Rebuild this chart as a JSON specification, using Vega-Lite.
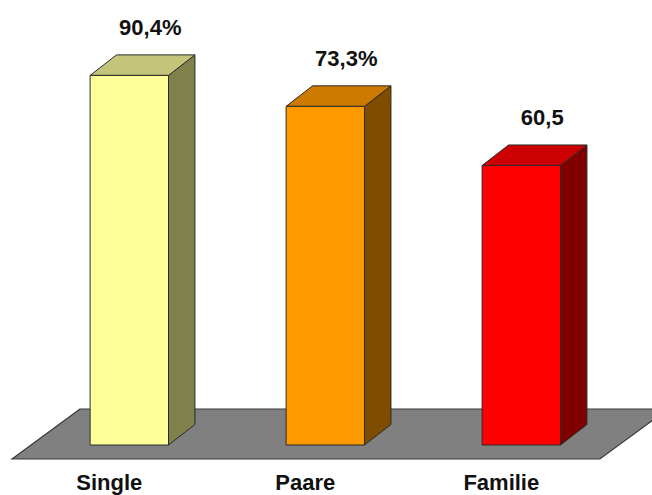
{
  "$schema": "https://vega.github.io/schema/vega-lite/v6.json",
  "width": 652,
  "height": 495,
  "padding": 0,
  "autosize": {"type": "fit", "contains": "padding"},
  "background": "#ffffff",
  "config": {"view": {"stroke": null}},
  "data": {
    "values": [
      {"category": "Single", "value": 80.0, "label": "90,4%"},
      {"category": "Paare", "value": 73.3, "label": "73,3%"},
      {"category": "Familie", "value": 60.5, "label": "60,5"}
    ]
  },
  "transform": [
    {"window": [{"op": "row_number", "as": "n"}]},
    {"calculate": "datum.n - 1", "as": "i"}
  ],
  "resolve": {"scale": {"fill": "independent"}},
  "layer": [
    {
      "transform": [
        {"aggregate": [{"op": "min", "field": "i", "as": "lo"}, {"op": "max", "field": "i", "as": "hi"}]},
        {"calculate": "0", "as": "front"},
        {"calculate": "1", "as": "back"},
        {"fold": ["front", "back"], "as": ["edge", "k"]},
        {"calculate": "-3.03 + datum.k * 10.82", "as": "fy"},
        {"calculate": "datum.lo - 0.598 + datum.k * 0.3465", "as": "fx"},
        {"calculate": "datum.hi + 0.401 + datum.k * 0.347", "as": "fx2"}
      ],
      "mark": {"type": "area", "orient": "horizontal", "fill": "#808080", "stroke": "#3a3a3a", "strokeWidth": 1.2, "clip": true},
      "encoding": {
        "y": {"field": "fy", "type": "quantitative", "axis": null, "scale": {"domain": [-10.82, 96.32], "nice": false, "zero": false}},
        "x": {"field": "fx", "type": "quantitative", "axis": null, "stack": null, "scale": {"domain": [-0.6597, 2.6668], "nice": false, "zero": false}},
        "x2": {"field": "fx2"}
      }
    },
    {
      "transform": [
        {"calculate": "0", "as": "front"},
        {"calculate": "1", "as": "back"},
        {"fold": ["front", "back"], "as": ["edge", "k"]},
        {"calculate": "datum.i + 0.2 + datum.k * 0.135", "as": "sx"},
        {"calculate": "datum.k * 4.44", "as": "sy"},
        {"calculate": "datum.value + datum.k * 4.44", "as": "sy2"}
      ],
      "mark": {"type": "area", "stroke": "#2a2a2a", "strokeWidth": 1},
      "encoding": {
        "x": {"field": "sx", "type": "quantitative", "axis": null, "scale": {"domain": [-0.6597, 2.6668], "nice": false, "zero": false}},
        "y": {"field": "sy", "type": "quantitative", "axis": null, "stack": null, "scale": {"domain": [-10.82, 96.32], "nice": false, "zero": false}},
        "y2": {"field": "sy2"},
        "detail": {"field": "category"},
        "fill": {"field": "category", "type": "nominal", "legend": null, "scale": {"domain": ["Single", "Paare", "Familie"], "range": ["#80804d", "#804d00", "#800000"]}}
      }
    },
    {
      "transform": [
        {"calculate": "0", "as": "front"},
        {"calculate": "1", "as": "back"},
        {"fold": ["front", "back"], "as": ["edge", "k"]},
        {"calculate": "datum.i - 0.2 + datum.k * 0.135", "as": "tx"},
        {"calculate": "datum.i + 0.2 + datum.k * 0.135", "as": "tx2"},
        {"calculate": "datum.value + datum.k * 4.44", "as": "ty"}
      ],
      "mark": {"type": "area", "orient": "horizontal", "stroke": "#2a2a2a", "strokeWidth": 1},
      "encoding": {
        "y": {"field": "ty", "type": "quantitative", "axis": null, "scale": {"domain": [-10.82, 96.32], "nice": false, "zero": false}},
        "x": {"field": "tx", "type": "quantitative", "axis": null, "stack": null, "scale": {"domain": [-0.6597, 2.6668], "nice": false, "zero": false}},
        "x2": {"field": "tx2"},
        "detail": {"field": "category"},
        "fill": {"field": "category", "type": "nominal", "legend": null, "scale": {"domain": ["Single", "Paare", "Familie"], "range": ["#c4c47a", "#cc7a00", "#cc0000"]}}
      }
    },
    {
      "transform": [
        {"calculate": "datum.i - 0.2", "as": "x0"},
        {"calculate": "datum.i + 0.2", "as": "x1"}
      ],
      "mark": {"type": "rect", "stroke": "#2a2a2a", "strokeWidth": 1},
      "encoding": {
        "x": {"field": "x0", "type": "quantitative", "axis": null, "scale": {"domain": [-0.6597, 2.6668], "nice": false, "zero": false}},
        "x2": {"field": "x1"},
        "y": {"field": "value", "type": "quantitative", "axis": null, "scale": {"domain": [-10.82, 96.32], "nice": false, "zero": false}},
        "y2": {"datum": 0},
        "fill": {"field": "category", "type": "nominal", "legend": null, "scale": {"domain": ["Single", "Paare", "Familie"], "range": ["#ffff99", "#ff9900", "#ff0000"]}}
      }
    },
    {
      "transform": [
        {"calculate": "datum.i + 0.107", "as": "lx"},
        {"calculate": "datum.value + 4.44", "as": "ly"}
      ],
      "mark": {"type": "text", "font": "Liberation Sans", "fontWeight": "bold", "fontSize": 22, "fill": "#111111", "align": "center", "baseline": "alphabetic", "dy": -20},
      "encoding": {
        "x": {"field": "lx", "type": "quantitative", "axis": null, "scale": {"domain": [-0.6597, 2.6668], "nice": false, "zero": false}},
        "y": {"field": "ly", "type": "quantitative", "axis": null, "scale": {"domain": [-10.82, 96.32], "nice": false, "zero": false}},
        "text": {"field": "label"}
      }
    },
    {
      "transform": [
        {"calculate": "datum.i - 0.102", "as": "cx"}
      ],
      "mark": {"type": "text", "font": "Liberation Sans", "fontWeight": "bold", "fontSize": 22, "fill": "#111111", "align": "center", "baseline": "alphabetic"},
      "encoding": {
        "x": {"field": "cx", "type": "quantitative", "axis": null, "scale": {"domain": [-0.6597, 2.6668], "nice": false, "zero": false}},
        "y": {"datum": -9.74},
        "text": {"field": "category"}
      }
    }
  ]
}
